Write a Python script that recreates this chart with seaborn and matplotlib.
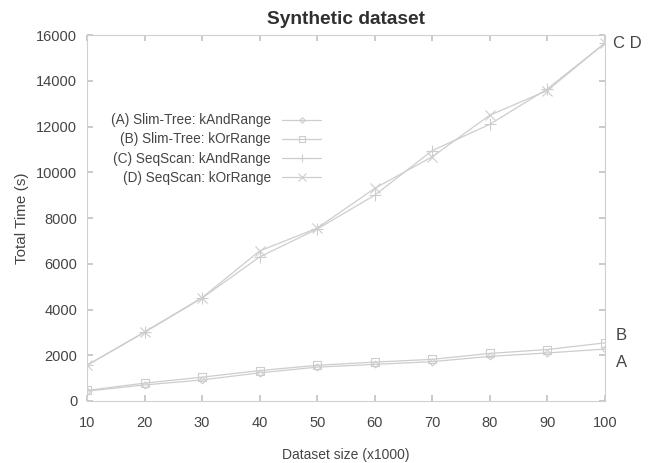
import matplotlib
matplotlib.use("Agg")
import matplotlib.pyplot as plt
import seaborn as sns
import pandas as pd

sizes = [10, 20, 30, 40, 50, 60, 70, 80, 90, 100]
slim_and = [430, 700, 920, 1230, 1480, 1600, 1720, 1950, 2100, 2270]
slim_or = [460, 780, 1040, 1330, 1560, 1700, 1820, 2080, 2250, 2540]
seq_and = [1560, 3000, 4500, 6300, 7520, 9000, 10950, 12100, 13650, 15650]
seq_or = [1560, 3020, 4520, 6560, 7560, 9300, 10680, 12500, 13580, 15650]
series_names = ["(A) Slim-Tree: kAndRange", "(B) Slim-Tree: kOrRange",
                "(C) SeqScan: kAndRange", "(D) SeqScan: kOrRange"]
end_labels = ["A", "B", "C D"]

sns.set_theme(style="white")
plt.rcParams['font.family'] = ['Liberation Sans', 'DejaVu Sans']
txt = "#454545"
line_c = "#cdcdcd"

fig = plt.figure(figsize=(6.49, 4.63), dpi=100)
ax = fig.add_axes([0.134, 0.134, 0.798, 0.790])

marker_list = ["D", "s", "+", "x"]
sizes_m = [3.5, 6, 8, 7]
for name, vals, mk, ms in zip(series_names, [slim_and, slim_or, seq_and, seq_or],
                              marker_list, sizes_m):
    d = pd.DataFrame({"size": sizes, "time": vals})
    sns.lineplot(data=d, x="size", y="time", marker=mk, markersize=ms,
                 color=line_c, markerfacecolor="none", markeredgecolor=line_c,
                 markeredgewidth=0.8, linewidth=0.9, ax=ax, label=name, legend=False)

ax.set_xlim(10, 100)
ax.set_ylim(0, 16000)
ax.set_xticks(range(10, 101, 10))
ax.set_yticks(range(0, 16001, 2000))
ax.tick_params(axis="both", direction="in", length=4, color="#c4c4c4",
               labelsize=10.5, labelcolor=txt, top=True, right=True,
               bottom=True, left=True)
ax.tick_params(axis="x", pad=11)
ax.tick_params(axis="y", pad=7)
for sp in ax.spines.values():
    sp.set_color("#d0d0d0")
    sp.set_linewidth(0.8)

ax.set_title("Synthetic dataset", fontsize=13.8, fontweight="bold", color="#303030", pad=8)
ax.set_xlabel("Dataset size (x1000)", fontsize=10, color=txt, labelpad=13)
ax.set_ylabel("Total Time (s)", fontsize=11, color=txt, labelpad=5)

ax.annotate(end_labels[2], (sizes[-1], seq_and[-1]), xytext=(6, 0),
            textcoords="offset points", va="center", ha="left", fontsize=12, color=txt,
            annotation_clip=False)
ax.annotate(end_labels[1], (sizes[-1], slim_or[-1]), xytext=(8, 5),
            textcoords="offset points", va="center", ha="left", fontsize=12, color=txt,
            annotation_clip=False)
ax.annotate(end_labels[0], (sizes[-1], slim_and[-1]), xytext=(8, -10),
            textcoords="offset points", va="center", ha="left", fontsize=12, color=txt,
            annotation_clip=False)

leg = ax.legend(handles=ax.lines[:4], labels=series_names, loc="center right",
                bbox_to_anchor=(0.495, 0.678), bbox_transform=fig.transFigure,
                frameon=False, markerfirst=False, fontsize=9.8, labelcolor=txt,
                handlelength=2.9, labelspacing=0.38, borderpad=0, borderaxespad=0,
                handletextpad=0.8, markerscale=0.8)
leg._legend_box.align = "right"
for vp in leg._legend_handle_box.get_children():
    vp.align = "right"

fig.savefig("out.png", dpi=100)
